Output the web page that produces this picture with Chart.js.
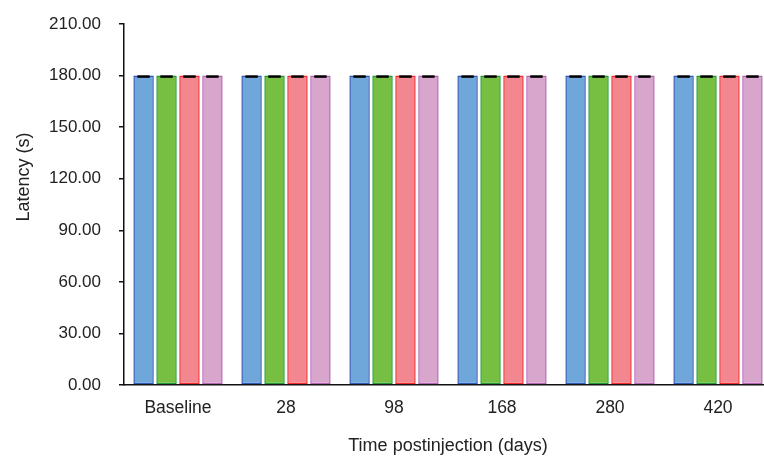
<!DOCTYPE html>
<html>
<head>
<meta charset="utf-8">
<script src="https://cdn.jsdelivr.net/npm/chart.js@4"></script>
<style>
  html, body { margin: 0; padding: 0; background: #fff; overflow: hidden; }
  #wrap { width: 772px; height: 457px; }
</style>
</head>
<body>
<div id="wrap"><canvas id="latency"></canvas></div>
<script>
const timepoints = ["Baseline", "28", "98", "168", "280", "420"];
const group1 = [180, 180, 180, 180, 180, 180];
const group2 = [180, 180, 180, 180, 180, 180];
const group3 = [180, 180, 180, 180, 180, 180];
const group4 = [180, 180, 180, 180, 180, 180];
const sd1 = [0, 0, 0, 0, 0, 0];
const sd2 = [0, 0, 0, 0, 0, 0];
const sd3 = [0, 0, 0, 0, 0, 0];
const sd4 = [0, 0, 0, 0, 0, 0];
const yTicks = [0, 30, 60, 90, 120, 150, 180, 210];

const fills = ['#6fa7db', '#76bf42', '#f3878f', '#d8a5cd'];
const edges = ['#2f58b8', '#1f9a36', '#f52a2a', '#b562b4'];

Chart.defaults.font.family = "'Liberation Sans', Arial, sans-serif";
Chart.defaults.color = '#222';

// little black caps for the error bars
const errorCaps = {
  id: 'errorCaps',
  afterDatasetsDraw(chart) {
    const ctx = chart.ctx;
    const y = chart.scales.y;
    chart.data.datasets.forEach((ds, i) => {
      const meta = chart.getDatasetMeta(i);
      meta.data.forEach((bar, j) => {
        const v = ds.data[j], e = ds.sd[j];
        const half = bar.width / 2 - 4;
        ctx.save();
        ctx.strokeStyle = '#000';
        ctx.lineWidth = 2.5;
        ctx.beginPath();
        ctx.moveTo(bar.x - half, y.getPixelForValue(v + e) + 1);
        ctx.lineTo(bar.x + half, y.getPixelForValue(v + e) + 1);
        ctx.moveTo(bar.x, y.getPixelForValue(v + e) + 1);
        ctx.lineTo(bar.x, y.getPixelForValue(v - e) + 1);
        ctx.stroke();
        ctx.restore();
      });
    });
  }
};

// y axis title, sitting a bit above the middle of the axis
const yTitle = {
  id: 'yTitle',
  afterDraw(chart) {
    const ctx = chart.ctx;
    ctx.save();
    ctx.translate(24, 177);
    ctx.rotate(-Math.PI / 2);
    ctx.fillStyle = '#222';
    ctx.font = "18px 'Liberation Sans', Arial, sans-serif";
    ctx.textAlign = 'center';
    ctx.textBaseline = 'middle';
    ctx.fillText('Latency (s)', 0, 0);
    ctx.restore();
  }
};

const series = [group1, group2, group3, group4];
const sds = [sd1, sd2, sd3, sd4];

new Chart(document.getElementById("latency"), {
  type: 'bar',
  data: {
    labels: timepoints,
    datasets: series.map((d, i) => ({
      data: d,
      sd: sds[i],
      backgroundColor: fills[i],
      borderColor: edges[i],
      borderWidth: 1.5,
      borderSkipped: false,
      barPercentage: 0.89,
      categoryPercentage: 0.85
    }))
  },
  options: {
    responsive: true,
    maintainAspectRatio: false,
    animation: false,
    layout: { padding: 0 },
    plugins: {
      legend: { display: false },
      tooltip: { enabled: false }
    },
    scales: {
      x: {
        grid: { display: false },
        border: { display: true, color: '#111', width: 1.5 },
        ticks: { font: { size: 17.5 }, color: '#222', padding: 5 },
        title: {
          display: true,
          text: 'Time postinjection (days)',
          font: { size: 18 },
          color: '#222',
          padding: { top: 4, bottom: 0 }
        },
        afterFit(scale) { scale.height = 72; }
      },
      y: {
        min: 0,
        max: 210,
        afterBuildTicks(scale) { scale.ticks = yTicks.map(v => ({ value: v })); },
        grid: { drawOnChartArea: false, drawTicks: true, tickLength: 5, color: '#111', lineWidth: 1.5 },
        border: { display: true, color: '#111', width: 1.5 },
        ticks: {
          font: { size: 17 },
          color: '#222',
          padding: 18,
          callback: v => v.toFixed(2)
        },
        afterFit(scale) {
          scale.width = 124;
          scale.paddingTop = 24;
        }
      }
    }
  },
  plugins: [errorCaps, yTitle]
});
</script>
</body>
</html>
